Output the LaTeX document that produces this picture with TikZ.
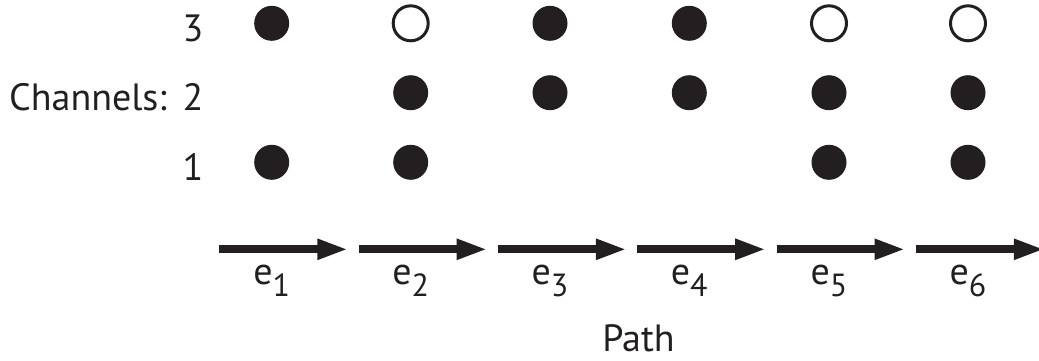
\documentclass[tikz,border=0pt]{standalone}
\usepackage{fontspec}
\setmainfont{PT Sans}
\usetikzlibrary{arrows.meta}
\definecolor{ink}{HTML}{231F20}
\newcommand{\esub}[1]{e\raisebox{-12pt}{\fontsize{32}{32}\selectfont #1}}
\begin{document}
\begin{tikzpicture}[x=1pt,y=-1pt,
  every node/.style={text=ink, font=\fontsize{38}{42}\selectfont},
  fulldot/.style={circle, fill=ink, minimum size=35pt, inner sep=0pt},
  opendot/.style={circle, draw=ink, line width=3pt, minimum size=35pt, inner sep=0pt},
  pathseg/.style={draw=ink, line width=8pt, -{Triangle[length=31pt,width=19pt]}},
  lbl/.style={anchor=base, inner sep=0pt}]
\useasboundingbox (0,0) rectangle (1039,360);
% row labels
\node[lbl] (r3) at (193,41.5) {3};
\node[lbl] (r2) at (193,110.5) {2};
\node[lbl] (r1) at (193,180) {1};
\node[lbl, anchor=base east] (ch) at (167,110.5) {Channels:};
% column 1
\node[fulldot] (d13) at (271.7,23.3) {};
\node[fulldot] (d11) at (271.7,162.3) {};
% column 2
\node[opendot] (d23) at (410.7,23.3) {};
\node[fulldot] (d22) at (410.7,92.7) {};
\node[fulldot] (d21) at (410.7,162.3) {};
% column 3
\node[fulldot] (d33) at (550,23.3) {};
\node[fulldot] (d32) at (550,92.7) {};
% column 4
\node[fulldot] (d43) at (689.3,23.3) {};
\node[fulldot] (d42) at (689.3,92.7) {};
% column 5
\node[opendot] (d53) at (829,23.3) {};
\node[fulldot] (d52) at (829,92.7) {};
\node[fulldot] (d51) at (829,162.3) {};
% column 6
\node[opendot] (d63) at (968,23.3) {};
\node[fulldot] (d62) at (968,92.7) {};
\node[fulldot] (d61) at (968,162.3) {};
% path arrows
\coordinate (s1) at (219.3,249.3); \coordinate (t1) at (348.3,249.3);
\coordinate (s2) at (358.6,249.3); \coordinate (t2) at (487.6,249.3);
\coordinate (s3) at (497.9,249.3); \coordinate (t3) at (626.9,249.3);
\coordinate (s4) at (637.2,249.3); \coordinate (t4) at (766.2,249.3);
\coordinate (s5) at (776.5,249.3); \coordinate (t5) at (905.5,249.3);
\coordinate (s6) at (915.8,249.3); \coordinate (t6) at (1044.8,249.3);
\draw[pathseg] (s1) -- (t1);
\draw[pathseg] (s2) -- (t2);
\draw[pathseg] (s3) -- (t3);
\draw[pathseg] (s4) -- (t4);
\draw[pathseg] (s5) -- (t5);
\draw[pathseg] (s6) -- (t6);
% edge labels
\node[lbl] (e1) at (271.7,284) {\esub{1}};
\node[lbl] (e2) at (410.7,284) {\esub{2}};
\node[lbl] (e3) at (550,284) {\esub{3}};
\node[lbl] (e4) at (689.3,284) {\esub{4}};
\node[lbl] (e5) at (829,284) {\esub{5}};
\node[lbl] (e6) at (968,284) {\esub{6}};
\node[lbl] (path) at (638.5,351.7) {Path};
\end{tikzpicture}
\end{document}
